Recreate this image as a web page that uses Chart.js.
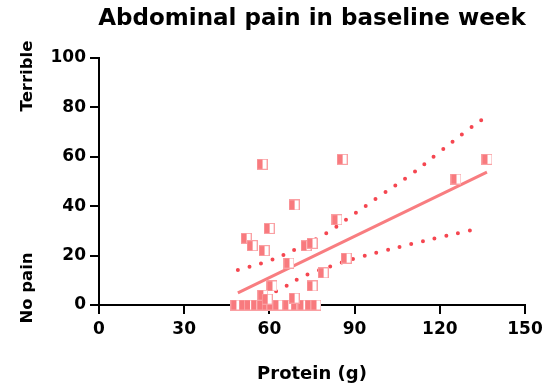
<!DOCTYPE html>
<html>
<head>
<meta charset="utf-8">
<script src="https://cdn.jsdelivr.net/npm/chart.js@4"></script>
<style>
  html, body { margin: 0; padding: 0; background: #fff; }
  #wrap { width: 552px; height: 391px; position: relative; }
</style>
</head>
<body>
<div id="wrap"><canvas id="painChart"></canvas></div>
<script>
// Protein intake (g) vs abdominal pain score (0 = no pain, 100 = terrible)
const proteinG = [48.2, 51.1, 53.0, 55.3, 57.4, 59.2, 60.9, 63.0, 66.5, 69.4, 71.8, 74.3, 76.4,
                  57.4, 85.6, 136.6, 125.7, 68.7, 83.8, 59.9, 51.8, 53.9, 58.1, 72.9, 75.0,
                  66.9, 87.0, 78.9, 60.9, 75.0, 57.7, 59.2, 68.7];
const painScore = [0, 0, 0, 0, 0, 0, 0, 0, 0, 0, 0, 0, 0,
                   57, 59, 59, 51, 40.5, 34.5, 31, 27, 24, 22, 24, 25,
                   17, 19, 13, 7.7, 7.7, 4, 2.4, 2.8];

// fitted regression line
const fitX = [48.9, 136.6];
const fitY = [4.9, 53.8];

// 95% confidence band
const upperX = [48.9, 60, 70, 80, 90, 100, 110, 120, 130, 136];
const upperY = [14.2, 18, 23, 29, 37, 45, 53, 62, 71, 76];
const lowerX = [59, 62, 66, 70, 74, 82, 90, 100, 110, 120, 130, 134];
const lowerY = [2.5, 5.3, 7.7, 10.5, 12.6, 15.8, 18.8, 21.8, 24.7, 27.4, 30, 30.8];

const xTicks = [0, 30, 60, 90, 120, 150];
const yTicks = [0, 20, 40, 60, 80, 100];

const FONT = "'DejaVu Sans', sans-serif";
const pts = (xs, ys) => xs.map((x, i) => ({ x: x, y: ys[i] }));

// half-filled square marker
function makeMarker() {
    const c = document.createElement('canvas');
    c.width = 11; c.height = 11;
    const g = c.getContext('2d');
    g.fillStyle = '#fff';
    g.fillRect(0, 0, 11, 11);
    g.fillStyle = 'rgb(248,122,126)';
    g.fillRect(0, 0, 6, 11);
    g.strokeStyle = 'rgb(250,160,163)';
    g.lineWidth = 1;
    g.strokeRect(0.5, 0.5, 10, 10);
    return c;
}
const marker = makeMarker();

const sideLabels = {
    id: 'sideLabels',
    afterDraw(chart) {
        const ctx = chart.ctx;
        const a = chart.chartArea;
        ctx.save();
        ctx.fillStyle = '#000';
        ctx.textAlign = 'center';
        ctx.textBaseline = 'middle';
        ctx.font = 'bold 23px ' + FONT;
        ctx.fillText('Abdominal pain in baseline week', (a.left + a.right) / 2, 19);
        ctx.font = 'bold 16.5px ' + FONT;
        ctx.translate(28, 0);
        ctx.rotate(-Math.PI / 2);
        ctx.fillText('Terrible', -(a.top + 18), 0);
        ctx.fillText('No pain', -(a.bottom - 17), 0);
        ctx.restore();
    }
};

const dotted = {
    borderColor: 'rgb(245,70,80)',
    borderWidth: 4,
    borderDash: [0, 12],
    borderCapStyle: 'round',
    pointRadius: 0,
    showLine: true,
    tension: 0.4,
    fill: false
};

new Chart(document.getElementById('painChart'), {
    type: 'scatter',
    data: {
        datasets: [
            Object.assign({ data: pts(upperX, upperY), order: 3 }, dotted),
            Object.assign({ data: pts(lowerX, lowerY), order: 3 }, dotted),
            {
                data: pts(fitX, fitY),
                showLine: true,
                borderColor: 'rgb(248,125,128)',
                borderWidth: 3,
                pointRadius: 0,
                order: 2
            },
            {
                data: pts(proteinG, painScore),
                pointStyle: marker,
                pointRadius: 5.5,
                order: 1
            }
        ]
    },
    options: {
        responsive: true,
        maintainAspectRatio: false,
        animation: false,
        clip: false,
        layout: { padding: { top: 58, right: 27, left: 0, bottom: 0 } },
        plugins: { legend: { display: false }, tooltip: { enabled: false } },
        scales: {
            x: {
                type: 'linear',
                min: 0, max: 150,
                afterBuildTicks: s => { s.ticks = xTicks.map(v => ({ value: v })); },
                afterFit: s => { s.height = 86; },
                border: { display: true, color: '#000', width: 2 },
                grid: { drawOnChartArea: false, drawTicks: true, tickLength: 9, color: '#000', lineWidth: 2 },
                ticks: { color: '#000', font: { family: FONT, size: 17, weight: 'bold' }, padding: 5 },
                title: {
                    display: true, text: 'Protein (g)', color: '#000',
                    font: { family: FONT, size: 18, weight: 'bold' },
                    padding: { top: 0, bottom: 6 }
                }
            },
            y: {
                type: 'linear',
                min: 0, max: 100,
                afterBuildTicks: s => { s.ticks = yTicks.map(v => ({ value: v })); },
                afterFit: s => { s.width = 99; },
                border: { display: true, color: '#000', width: 2 },
                grid: { drawOnChartArea: false, drawTicks: true, tickLength: 9, color: '#000', lineWidth: 2 },
                ticks: { color: '#000', font: { family: FONT, size: 17, weight: 'bold' }, padding: 4 }
            }
        }
    },
    plugins: [sideLabels]
});
</script>
</body>
</html>
